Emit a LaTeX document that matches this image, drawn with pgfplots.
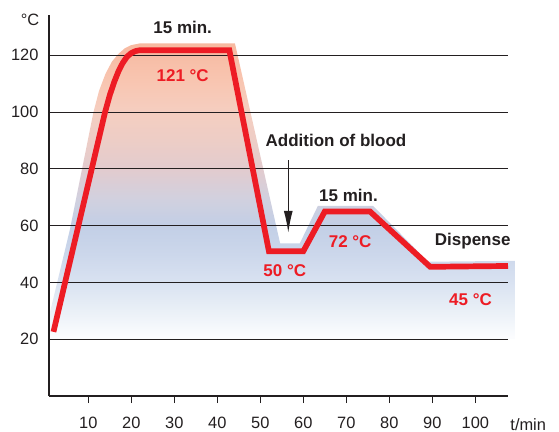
\documentclass[border=0pt]{standalone}
\usepackage{fontspec}
\setmainfont{Liberation Sans}
\usepackage{pgfplots}
\pgfplotsset{compat=1.18}
\usetikzlibrary{arrows.meta}

\definecolor{ink}{HTML}{231F20}
\definecolor{hotred}{HTML}{ED1C24}
% vertical gradient under the curve: 25bp = 20 degC (bottom), 75bp = 124.2 degC (top)
\pgfdeclareverticalshading{envgrad}{100bp}{
  color(0bp)=(white); color(25.5bp)=(rgb,255:red,251;green,252;blue,254);
  color(29.8bp)=(rgb,255:red,234;green,240;blue,247);
  color(34.6bp)=(rgb,255:red,217;green,226;blue,241);
  color(39.4bp)=(rgb,255:red,204;green,215;blue,235);
  color(44.2bp)=(rgb,255:red,194;green,207;blue,230);
  color(49bp)=(rgb,255:red,210;green,208;blue,222);
  color(53.8bp)=(rgb,255:red,226;green,203;blue,206);
  color(58.6bp)=(rgb,255:red,237;green,205;blue,198);
  color(63.4bp)=(rgb,255:red,245;green,206;blue,192);
  color(68.2bp)=(rgb,255:red,248;green,198;blue,178);
  color(75bp)=(rgb,255:red,247;green,185;blue,160);
  color(100bp)=(rgb,255:red,247;green,185;blue,160)}

\begin{document}
\begin{tikzpicture}
\begin{axis}[
  set layers,
  scale only axis,
  width=459bp, height=381bp,
  xmin=0.86, xmax=107.6,
  ymin=0, ymax=134.2,
  axis lines=left,
  axis line style={-, line width=1.3bp, ink},
  clip=false,
  xtick={10,20,...,100},
  ytick={20,40,...,120},
  tick align=outside,
  major tick length=7bp,
  xtick style={line width=1.1bp, ink},
  ytick style={draw=none},
  ymajorgrids,
  grid style={line width=0.9bp, ink},
  /pgf/number format/assume math mode=true,
  tick label style={font=\fontsize{16.4bp}{19bp}\selectfont, text=ink},
  xticklabel style={yshift=-10.5bp},
]
% shaded area behind the curve (its upper edge is the halo round the red line)
\addplot[on layer=axis background, draw=none, shade, shading=envgrad] coordinates {
  (0.86,20) (0.86,28) (5.7,58.5) (11.2,100) (12.5,107.5) (14,113.5)
  (15.5,117.8) (17,120.5) (18.5,122.5) (20,123.6) (22,124.2) (44.1,124.2)
  (54.6,53.8) (59.2,53.8) (63.4,67) (76.2,67) (89,47.3) (109.2,47.6) (109.2,20)
};
% temperature profile
\addplot[hotred, line width=5.7bp, line join=miter, no marks] coordinates {
  (1.9,22.6) (13.9,100) (15,106) (16,110.5) (17,114.3) (18,117.3)
  (19,119.5) (20,120.8) (21,121.5) (22,121.8) (42.8,121.8)
  (52,51) (60,51) (65,65) (75.5,65) (89.5,45.5) (107.6,45.8)
};

\begin{scope}[every node/.style={font=\fontsize{17bp}{20bp}\selectfont\bfseries}]
\node[text=ink] at (axis cs:31.95,129.8) {15 min.};
\node[text=hotred] at (axis cs:31.95,113) {121 °C};
\node[text=ink] at (axis cs:67.6,90.1) {Addition of blood};
\node[text=ink] at (axis cs:70.5,70.8) {15 min.};
\node[text=hotred] at (axis cs:70.9,54.3) {72 °C};
\node[text=hotred] at (axis cs:55.7,44.1) {50 °C};
\node[text=ink] at (axis cs:99.4,54.7) {Dispense};
\node[text=hotred] at (axis cs:98.9,33.8) {45 °C};
\end{scope}
\draw[ink, line width=1.2bp, -{Latex[length=22bp, width=9bp]}]
  (axis cs:56.5,83.1) -- (axis cs:56.5,57.5);

\node[text=ink, font=\fontsize{16.4bp}{19bp}\selectfont] at (axis cs:-3.56,132.6) {°C};
\node[text=ink, font=\fontsize{16.4bp}{19bp}\selectfont, anchor=base] at (axis cs:112.3,-12) {t/min};
\end{axis}
\pgfresetboundingbox
\path[use as bounding box] ([shift={(-49bp,-36bp)}]current axis.south west)
  rectangle ([shift={(51bp,15bp)}]current axis.north east);
\end{tikzpicture}
\end{document}
